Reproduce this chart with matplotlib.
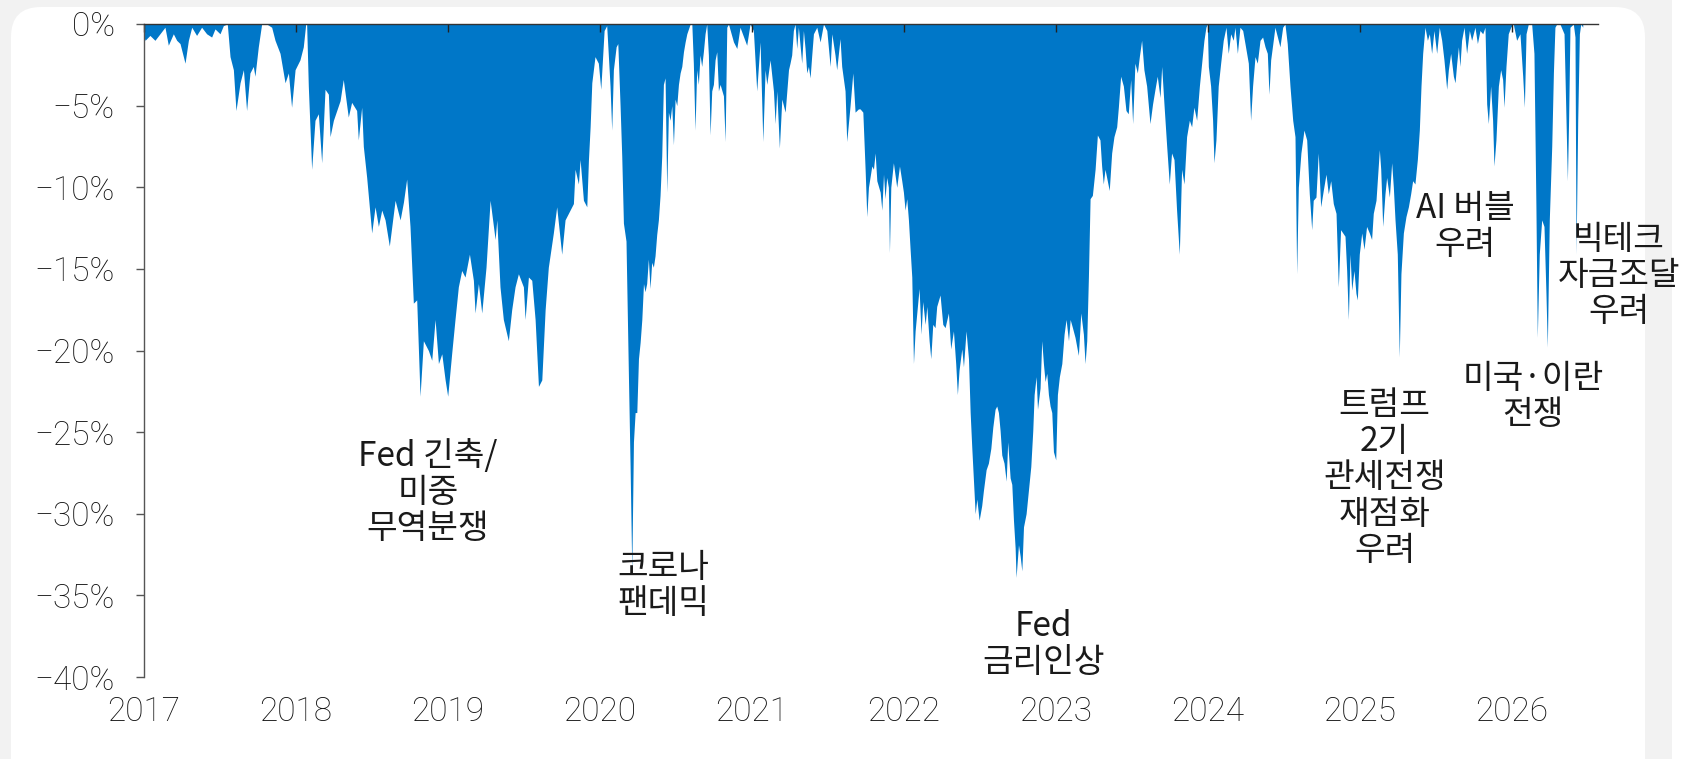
import matplotlib
matplotlib.use('Agg')
import matplotlib.pyplot as plt
from matplotlib.patches import FancyBboxPatch, Rectangle

# 낙폭(drawdown) 데이터: 연도(소수), 고점 대비 하락률(%)
t = [
    2017.000, 2017.007, 2017.039, 2017.072, 2017.105, 2017.138, 2017.160, 2017.193, 2017.215, 2017.237,
    2017.270, 2017.292, 2017.314, 2017.346, 2017.379, 2017.412, 2017.445, 2017.467, 2017.500, 2017.522,
    2017.548, 2017.566, 2017.588, 2017.605, 2017.632, 2017.654, 2017.675, 2017.697, 2017.719, 2017.730,
    2017.752, 2017.774, 2017.807, 2017.840, 2017.862, 2017.895, 2017.928, 2017.950, 2017.971, 2017.994,
    2018.026, 2018.048, 2018.064, 2018.070, 2018.081, 2018.103, 2018.125, 2018.147, 2018.169, 2018.191,
    2018.213, 2018.224, 2018.246, 2018.290, 2018.311, 2018.344, 2018.366, 2018.399, 2018.410, 2018.432,
    2018.443, 2018.465, 2018.498, 2018.520, 2018.542, 2018.564, 2018.586, 2018.614, 2018.652, 2018.685,
    2018.707, 2018.728, 2018.750, 2018.772, 2018.794, 2018.816, 2018.838, 2018.871, 2018.893, 2018.915,
    2018.937, 2018.959, 2018.981, 2018.998, 2019.024, 2019.046, 2019.068, 2019.090, 2019.112, 2019.141,
    2019.167, 2019.178, 2019.200, 2019.222, 2019.250, 2019.277, 2019.310, 2019.321, 2019.342, 2019.364,
    2019.397, 2019.419, 2019.441, 2019.463, 2019.496, 2019.507, 2019.529, 2019.551, 2019.573, 2019.595,
    2019.617, 2019.639, 2019.660, 2019.693, 2019.715, 2019.748, 2019.770, 2019.803, 2019.825, 2019.836,
    2019.858, 2019.869, 2019.891, 2019.913, 2019.924, 2019.935, 2019.946, 2019.967, 2019.989, 2020.005,
    2020.027, 2020.044, 2020.066, 2020.077, 2020.088, 2020.106, 2020.117, 2020.132, 2020.143, 2020.154,
    2020.171, 2020.187, 2020.198, 2020.209, 2020.220, 2020.231, 2020.242, 2020.253, 2020.264, 2020.275,
    2020.286, 2020.296, 2020.307, 2020.318, 2020.329, 2020.340, 2020.351, 2020.362, 2020.373, 2020.384,
    2020.395, 2020.406, 2020.417, 2020.428, 2020.439, 2020.450, 2020.461, 2020.472, 2020.483, 2020.494,
    2020.505, 2020.516, 2020.527, 2020.538, 2020.549, 2020.560, 2020.571, 2020.593, 2020.604, 2020.614,
    2020.625, 2020.636, 2020.647, 2020.658, 2020.669, 2020.680, 2020.691, 2020.702, 2020.713, 2020.724,
    2020.735, 2020.746, 2020.757, 2020.768, 2020.779, 2020.790, 2020.812, 2020.823, 2020.834, 2020.845,
    2020.878, 2020.900, 2020.921, 2020.965, 2020.987, 2021.009, 2021.031, 2021.053, 2021.071, 2021.086,
    2021.097, 2021.119, 2021.141, 2021.152, 2021.163, 2021.180, 2021.196, 2021.207, 2021.218, 2021.229,
    2021.240, 2021.250, 2021.261, 2021.272, 2021.283, 2021.294, 2021.305, 2021.327, 2021.338, 2021.349,
    2021.360, 2021.371, 2021.382, 2021.393, 2021.404, 2021.426, 2021.448, 2021.470, 2021.492, 2021.503,
    2021.514, 2021.525, 2021.546, 2021.557, 2021.579, 2021.590, 2021.612, 2021.623, 2021.645, 2021.663,
    2021.678, 2021.700, 2021.711, 2021.729, 2021.744, 2021.755, 2021.766, 2021.788, 2021.799, 2021.810,
    2021.821, 2021.843, 2021.854, 2021.865, 2021.875, 2021.886, 2021.897, 2021.904, 2021.913, 2021.930,
    2021.952, 2021.970, 2021.985, 2021.996, 2022.007, 2022.018, 2022.029, 2022.040, 2022.051, 2022.062,
    2022.073, 2022.084, 2022.099, 2022.112, 2022.123, 2022.139, 2022.150, 2022.165, 2022.176, 2022.189,
    2022.204, 2022.215, 2022.237, 2022.255, 2022.270, 2022.292, 2022.307, 2022.325, 2022.340, 2022.351,
    2022.362, 2022.380, 2022.391, 2022.408, 2022.424, 2022.435, 2022.446, 2022.468, 2022.479, 2022.494,
    2022.511, 2022.522, 2022.540, 2022.555, 2022.571, 2022.584, 2022.599, 2022.610, 2022.621, 2022.632,
    2022.643, 2022.658, 2022.672, 2022.682, 2022.698, 2022.709, 2022.720, 2022.731, 2022.737, 2022.753,
    2022.764, 2022.775, 2022.786, 2022.803, 2022.818, 2022.834, 2022.847, 2022.856, 2022.869, 2022.878,
    2022.895, 2022.906, 2022.917, 2022.928, 2022.939, 2022.950, 2022.961, 2022.972, 2022.983, 2022.998,
    2023.009, 2023.022, 2023.038, 2023.053, 2023.066, 2023.082, 2023.093, 2023.108, 2023.125, 2023.147,
    2023.163, 2023.180, 2023.191, 2023.202, 2023.213, 2023.224, 2023.239, 2023.257, 2023.272, 2023.289,
    2023.300, 2023.311, 2023.322, 2023.333, 2023.350, 2023.366, 2023.381, 2023.399, 2023.410, 2023.425,
    2023.443, 2023.460, 2023.475, 2023.491, 2023.504, 2023.519, 2023.535, 2023.548, 2023.563, 2023.578,
    2023.596, 2023.618, 2023.635, 2023.651, 2023.666, 2023.684, 2023.695, 2023.710, 2023.728, 2023.745,
    2023.760, 2023.776, 2023.793, 2023.811, 2023.826, 2023.842, 2023.859, 2023.877, 2023.892, 2023.907,
    2023.925, 2023.943, 2023.958, 2023.973, 2023.986, 2023.995, 2024.002, 2024.017, 2024.030, 2024.039,
    2024.052, 2024.067, 2024.083, 2024.100, 2024.118, 2024.133, 2024.149, 2024.166, 2024.177, 2024.193,
    2024.210, 2024.228, 2024.243, 2024.265, 2024.280, 2024.293, 2024.309, 2024.324, 2024.342, 2024.359,
    2024.375, 2024.390, 2024.401, 2024.412, 2024.429, 2024.440, 2024.462, 2024.473, 2024.491, 2024.506,
    2024.521, 2024.539, 2024.557, 2024.572, 2024.583, 2024.594, 2024.611, 2024.631, 2024.649, 2024.666,
    2024.682, 2024.692, 2024.710, 2024.725, 2024.741, 2024.758, 2024.776, 2024.791, 2024.807, 2024.824,
    2024.842, 2024.857, 2024.872, 2024.901, 2024.912, 2024.923, 2024.934, 2024.945, 2024.960, 2024.973,
    2024.982, 2024.995, 2025.011, 2025.026, 2025.043, 2025.061, 2025.076, 2025.087, 2025.105, 2025.127,
    2025.136, 2025.149, 2025.164, 2025.175, 2025.193, 2025.208, 2025.219, 2025.230, 2025.245, 2025.258,
    2025.269, 2025.285, 2025.302, 2025.318, 2025.333, 2025.346, 2025.361, 2025.377, 2025.390, 2025.401,
    2025.412, 2025.427, 2025.443, 2025.456, 2025.471, 2025.486, 2025.504, 2025.521, 2025.537, 2025.552,
    2025.570, 2025.581, 2025.596, 2025.614, 2025.625, 2025.636, 2025.647, 2025.657, 2025.668, 2025.684,
    2025.701, 2025.719, 2025.734, 2025.756, 2025.772, 2025.789, 2025.807, 2025.822, 2025.833, 2025.844,
    2025.859, 2025.872, 2025.881, 2025.894, 2025.910, 2025.925, 2025.938, 2025.947, 2025.960, 2025.975,
    2025.991, 2026.008, 2026.030, 2026.052, 2026.070, 2026.081, 2026.092, 2026.107, 2026.129, 2026.144,
    2026.157, 2026.166, 2026.179, 2026.195, 2026.210, 2026.223, 2026.232, 2026.245, 2026.261, 2026.272,
    2026.282, 2026.294, 2026.315, 2026.342, 2026.355, 2026.364, 2026.372, 2026.381, 2026.403, 2026.414,
    2026.421, 2026.432, 2026.443, 2026.452, 2026.465,
]
dd = [
    -0.8, -1.0, -0.7, -1.0, -0.6, -0.2, -1.3, -0.6, -1.0, -1.2,
    -2.4, -1.0, -0.2, -0.7, -0.2, -0.6, -0.8, -0.3, -0.6, -0.1,
    0.0, -2.0, -2.8, -5.3, -3.6, -2.8, -5.3, -3.0, -2.6, -3.2,
    -1.4, 0.0, 0.0, -0.2, -1.0, -1.8, -3.6, -3.0, -5.1, -2.8,
    -2.2, -1.4, 0.0, 0.0, -3.8, -8.9, -5.9, -5.5, -8.5, -4.0,
    -4.3, -6.9, -5.9, -4.7, -3.4, -5.7, -4.8, -5.3, -7.1, -5.1,
    -7.5, -9.4, -12.8, -11.2, -12.4, -11.4, -12.0, -13.6, -10.8, -12.0,
    -10.9, -9.5, -12.4, -17.1, -16.9, -22.8, -19.4, -20.0, -20.6, -18.1,
    -20.8, -20.2, -21.8, -22.8, -20.2, -18.1, -16.1, -15.1, -15.5, -14.1,
    -15.7, -17.7, -15.9, -17.7, -14.9, -10.8, -13.2, -12.0, -16.1, -18.1,
    -19.4, -17.5, -16.1, -15.3, -16.1, -18.1, -15.5, -15.7, -18.1, -22.2,
    -21.8, -17.5, -14.9, -12.8, -11.2, -14.1, -12.0, -11.4, -11.0, -8.9,
    -9.8, -8.3, -10.8, -11.2, -8.3, -6.3, -3.6, -2.0, -2.4, -4.0,
    -0.4, -0.1, -3.8, -6.5, -2.8, -1.4, -1.2, -5.0, -8.1, -12.2,
    -13.3, -21.6, -27.1, -33.5, -25.6, -23.8, -23.8, -20.5, -19.5, -18.1,
    -15.9, -16.4, -15.9, -14.4, -16.2, -14.6, -14.9, -14.2, -12.9, -12.0,
    -10.5, -8.1, -3.7, -3.3, -10.3, -5.4, -5.9, -5.0, -7.4, -4.6,
    -5.0, -3.7, -3.0, -2.6, -1.7, -1.1, -0.6, 0.0, 0.0, -2.4,
    -6.5, -2.8, -3.7, -1.9, -2.6, -1.7, -0.6, 0.0, -1.9, -6.8,
    -4.1, -3.7, -2.2, -1.7, -4.1, -3.7, -4.4, -7.2, -0.2, 0.0,
    -1.1, -1.5, -0.2, -1.3, 0.0, -0.4, -4.1, -1.1, -7.2, -2.8,
    -3.7, -2.2, -4.1, -6.1, -4.1, -7.6, -4.6, -5.0, -5.4, -4.1,
    -2.8, -2.4, -1.9, -0.4, 0.0, -1.5, -0.2, -2.4, -0.4, -1.5,
    -3.0, -2.6, -3.3, -1.9, -0.6, -0.2, -1.1, 0.0, -0.4, -1.5,
    -2.6, -0.6, -1.9, -2.8, -0.9, -2.6, -4.1, -7.2, -5.0, -3.0,
    -5.4, -5.2, -5.2, -5.4, -8.9, -11.8, -10.0, -8.7, -8.9, -7.9,
    -9.6, -10.3, -11.4, -9.2, -10.7, -9.4, -10.0, -14.0, -10.0, -8.5,
    -10.0, -8.7, -9.6, -10.3, -11.4, -10.7, -12.0, -13.8, -15.5, -20.8,
    -18.8, -17.7, -16.2, -19.0, -17.0, -18.4, -17.3, -19.4, -20.5, -18.4,
    -18.6, -17.3, -16.6, -18.4, -18.6, -17.7, -19.9, -18.8, -20.8, -22.7,
    -21.2, -19.9, -21.0, -18.8, -20.5, -23.8, -26.0, -30.0, -29.1, -30.4,
    -29.5, -28.6, -27.3, -26.9, -26.0, -24.7, -23.6, -23.4, -23.8, -24.9,
    -26.4, -26.9, -28.0, -25.6, -27.8, -28.2, -30.4, -32.1, -33.9, -31.9,
    -32.6, -33.5, -30.8, -30.0, -28.6, -27.1, -24.9, -22.7, -21.6, -23.6,
    -22.3, -19.4, -20.8, -21.9, -21.4, -22.7, -23.4, -23.8, -26.2, -26.7,
    -22.7, -21.6, -20.8, -19.0, -18.1, -19.4, -18.1, -18.6, -19.2, -20.3,
    -17.7, -19.0, -20.8, -19.4, -15.5, -10.7, -10.5, -8.9, -6.8, -7.1,
    -8.7, -9.8, -8.9, -9.4, -10.2, -7.9, -6.9, -6.3, -5.1, -3.2,
    -3.8, -5.3, -5.5, -3.4, -6.1, -2.4, -3.0, -2.0, -1.0, -2.8,
    -3.8, -6.1, -4.9, -4.0, -3.2, -4.5, -2.6, -4.9, -7.5, -9.8,
    -7.9, -8.3, -11.4, -14.1, -8.9, -9.8, -6.9, -5.9, -6.3, -5.1,
    -5.9, -3.8, -2.4, -1.0, -0.2, 0.0, -2.6, -3.8, -5.9, -8.5,
    -7.1, -3.8, -2.4, -1.0, -0.2, -1.8, -0.6, -1.0, -0.2, -1.8,
    -0.2, -0.4, -1.2, -2.4, -5.9, -3.8, -2.0, -2.4, -1.0, -0.8,
    -1.4, -1.8, -4.3, -2.2, -1.0, -0.2, -1.0, -1.4, -0.2, 0.0,
    -1.2, -3.8, -5.9, -6.9, -15.3, -10.0, -7.9, -6.5, -7.1, -10.4,
    -12.6, -10.8, -10.6, -7.9, -11.2, -10.2, -9.2, -10.4, -9.6, -11.0,
    -11.6, -16.1, -12.6, -13.0, -15.1, -18.1, -14.1, -16.3, -15.1, -16.5,
    -16.9, -14.1, -12.8, -13.8, -12.4, -12.8, -13.2, -11.6, -10.8, -7.7,
    -8.9, -12.4, -10.4, -9.4, -10.6, -8.5, -10.0, -12.0, -14.1, -20.4,
    -15.3, -12.8, -11.8, -11.2, -10.4, -9.6, -9.8, -8.3, -6.5, -3.8,
    -1.8, -0.2, -1.0, -0.6, -1.8, -0.4, -1.8, -0.2, -1.0, -2.2,
    -4.0, -2.8, -1.8, -3.2, -3.6, -2.4, -1.4, -2.6, -1.0, -0.2,
    -1.8, -0.4, -1.0, -0.2, -1.2, -0.4, -0.6, -0.2, -4.9, -6.1,
    -3.8, -5.9, -8.7, -7.1, -3.8, -2.8, -3.4, -5.1, -2.6, -0.6,
    -0.2, 0.0, -1.0, -0.6, -3.2, -5.1, -0.6, 0.0, 0.0, -1.8,
    -11.2, -19.2, -14.1, -12.0, -12.4, -16.5, -19.8, -12.0, -7.5, -3.0,
    -0.2, 0.0, 0.0, -0.6, -5.9, -9.6, -5.9, -0.2, 0.0, -0.8,
    -14.1, -5.9, -0.6, 0.0, -0.2,
]

year_ticks = [2017, 2018, 2019, 2020, 2021, 2022, 2023, 2024, 2025, 2026]
pct_ticks = [-40, -35, -30, -25, -20, -15, -10, -5, 0]
pct_labels = ['−40%', '−35%', '−30%', '−25%', '−20%', '−15%', '−10%', '−5%', '0%']

# 이벤트 주석: (x, y, 텍스트)
notes_x = [2018.868, 2020.414, 2022.918, 2025.161, 2025.693, 2026.138, 2026.704]
notes_y = [-28.7, -34.4, -38.0, -27.8, -12.4, -22.8, -15.4]
notes_txt = [
    'Fed 긴축/\n미중\n무역분쟁',
    '코로나\n팬데믹',
    'Fed\n금리인상',
    '트럼프\n2기\n관세전쟁\n재점화\n우려',
    'AI 버블\n우려',
    '미국·이란\n전쟁',
    '빅테크\n자금조달\n우려',
]

blue = '#0077c8'
txt_color = '#1a1a1a'

plt.rcParams['font.family'] = ['Noto Sans CJK KR', 'DejaVu Sans']

fig = plt.figure(figsize=(16.92, 7.59), dpi=100, facecolor='#f2f2f2')
# 오른쪽 흰 여백과 둥근 흰 패널 (축 뒤에 깔리도록 zorder 낮춤)
fig.patches.append(Rectangle((16.72, 0), 0.2, 7.59, transform=fig.dpi_scale_trans,
                             facecolor='white', edgecolor='none', zorder=-2))
fig.patches.append(FancyBboxPatch((0.11, -1.0), 16.34, 8.52,
                                  boxstyle='round,pad=0,rounding_size=0.3',
                                  transform=fig.dpi_scale_trans,
                                  facecolor='white', edgecolor='none', zorder=-1))

ax = fig.add_axes([0.0851, 0.108, 0.8594, 0.8604])
ax.set_facecolor('none')
ax.fill_between(t, dd, 0, color=blue, linewidth=0)

ax.set_xlim(2017, 2026.566)
ax.set_ylim(-40, 0)

ax.spines['bottom'].set_visible(False)
ax.spines['right'].set_visible(False)
ax.spines['top'].set_color('#333333')
ax.spines['top'].set_linewidth(1.0)
ax.spines['left'].set_color('#555555')
ax.spines['left'].set_linewidth(1.0)

ax.set_xticks(year_ticks)
ax.set_xticklabels([str(y) for y in year_ticks])
ax.tick_params(axis='x', top=True, bottom=False, labeltop=False, labelbottom=True,
               direction='in', length=6, width=1, color='#222222',
               pad=14, labelsize=24, labelcolor='#111111')
ax.set_yticks(pct_ticks)
ax.set_yticklabels(pct_labels)
ax.tick_params(axis='y', direction='out', length=6, width=1, color='#555555',
               pad=15, labelsize=24, labelcolor='#111111')
# 눈금 숫자는 가는 Roboto Light
for lab in ax.get_xticklabels() + ax.get_yticklabels():
    lab.set_fontfamily(['Roboto', 'DejaVu Sans'])
    lab.set_fontweight('light')

for x, y, s in zip(notes_x, notes_y, notes_txt):
    ax.text(x, y, s, ha='center', va='center', fontsize=24, color=txt_color,
            linespacing=1.05, multialignment='center')

fig.savefig('out.png', dpi=100, facecolor=fig.get_facecolor())
